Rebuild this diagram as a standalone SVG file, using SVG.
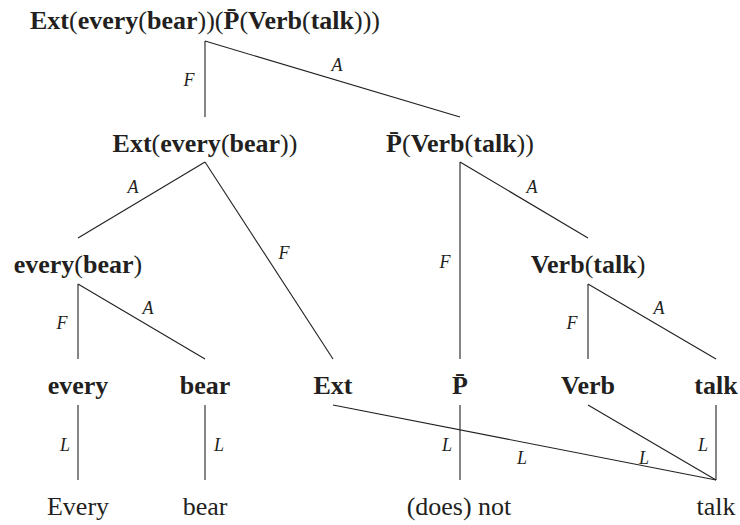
<svg xmlns="http://www.w3.org/2000/svg" width="740" height="525" viewBox="0 0 740 525">
<style>
text{fill:#231f20;font-family:"Liberation Serif","Times New Roman",serif;text-anchor:middle}
.n{font-size:26px;font-weight:bold}
.p{font-weight:normal}
.w{font-size:26px}
.l{font-size:18px;font-style:italic}
line{stroke:#231f20;stroke-width:1.1}
</style>
<rect width="740" height="525" fill="#fff"/>
<g id="connectors">
<line x1="205" y1="41" x2="205" y2="117"/>
<line x1="205" y1="41" x2="460" y2="117"/>
<line x1="205" y1="162" x2="78" y2="238"/>
<line x1="205" y1="162" x2="333" y2="359"/>
<line x1="460" y1="162" x2="460" y2="359"/>
<line x1="460" y1="162" x2="588" y2="238"/>
<line x1="78" y1="284" x2="78" y2="359"/>
<line x1="78" y1="284" x2="205" y2="359"/>
<line x1="588" y1="284" x2="588" y2="359"/>
<line x1="588" y1="284" x2="716" y2="359"/>
<line x1="78" y1="405" x2="78" y2="480"/>
<line x1="205" y1="405" x2="205" y2="480"/>
<line x1="333" y1="405" x2="716" y2="480"/>
<line x1="460" y1="405" x2="460" y2="480"/>
<line x1="588" y1="405" x2="716" y2="480"/>
<line x1="716" y1="405" x2="716" y2="480"/>
<text class="l" x="189" y="86">F</text>
<text class="l" x="337" y="71">A</text>
<text class="l" x="133" y="193">A</text>
<text class="l" x="284" y="259">F</text>
<text class="l" x="532" y="193">A</text>
<text class="l" x="445" y="268">F</text>
<text class="l" x="148" y="314">A</text>
<text class="l" x="62" y="329">F</text>
<text class="l" x="659" y="314">A</text>
<text class="l" x="572" y="329">F</text>
<text class="l" x="65" y="451">L</text>
<text class="l" x="219" y="451">L</text>
<text class="l" x="447" y="451">L</text>
<text class="l" x="522" y="464">L</text>
<text class="l" x="644" y="464">L</text>
<text class="l" x="703" y="451">L</text>
</g>
<g id="root"><text class="n" x="205" y="29">Ext<tspan class="p">(</tspan>every<tspan class="p">(</tspan>bear<tspan class="p">))(</tspan>P̄<tspan class="p">(</tspan>Verb<tspan class="p">(</tspan>talk<tspan class="p">)))</tspan></text></g>
<g id="ext-every-bear"><text class="n" x="205" y="152">Ext<tspan class="p">(</tspan>every<tspan class="p">(</tspan>bear<tspan class="p">))</tspan></text></g>
<g id="pbar-verb-talk"><text class="n" x="460" y="152">P̄<tspan class="p">(</tspan>Verb<tspan class="p">(</tspan>talk<tspan class="p">))</tspan></text></g>
<g id="every-bear"><text class="n" x="78" y="273">every<tspan class="p">(</tspan>bear<tspan class="p">)</tspan></text></g>
<g id="verb-talk"><text class="n" x="588" y="273">Verb<tspan class="p">(</tspan>talk<tspan class="p">)</tspan></text></g>
<g id="every"><text class="n" x="78" y="394">every</text></g>
<g id="bear"><text class="n" x="205" y="394">bear</text></g>
<g id="ext"><text class="n" x="333" y="394">Ext</text></g>
<g id="pbar"><text class="n" x="460" y="394">P̄</text></g>
<g id="verb"><text class="n" x="588" y="394">Verb</text></g>
<g id="talk"><text class="n" x="716" y="394">talk</text></g>
<g id="w-every"><text class="w" x="78" y="515">Every</text></g>
<g id="w-bear"><text class="w" x="205" y="515">bear</text></g>
<g id="w-not"><text class="w" x="459" y="515">(does) not</text></g>
<g id="w-talk"><text class="w" x="716" y="515">talk</text></g>
</svg>
